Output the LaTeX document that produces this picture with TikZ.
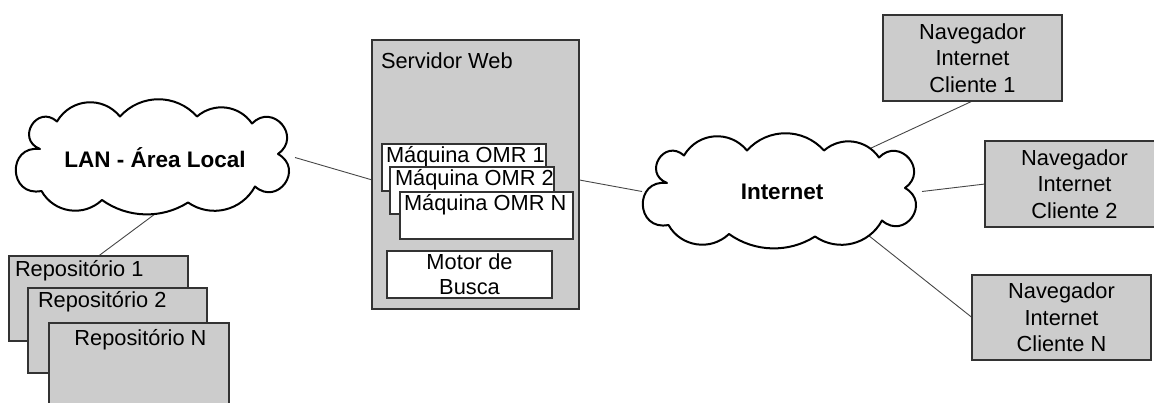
\documentclass[tikz,border=0pt]{standalone}
\usepackage{fontspec}
\setmainfont{Liberation Sans}
\usetikzlibrary{shapes.geometric,backgrounds}
\definecolor{boxgray}{RGB}{204,204,204}
\definecolor{edgegray}{RGB}{51,51,51}
\definecolor{linkgray}{RGB}{70,70,70}
\begin{document}
\begin{tikzpicture}[x=1pt,y=-1pt,
  every node/.style={font=\fontsize{21.8}{26.5}\selectfont, inner sep=0pt, outer sep=0pt},
  graybox/.style={rectangle, draw=edgegray, line width=1.2pt, fill=boxgray},
  whitebox/.style={rectangle, draw=edgegray, line width=1.2pt, fill=white},
  cloudtext/.style={ellipse, minimum width=280, minimum height=113, font=\bfseries\fontsize{22.5}{26}\selectfont},
  cloudline/.style={draw=black, line width=2pt, fill=white, line join=round},
  link/.style={draw=linkgray, line width=0.9pt},
  lbl/.style={anchor=base west},
  cloudpic/.pic={
    \path[cloudline] (-115,-8.5)
      to[bend left=100, looseness=2.1] (-98,-36)
      to[bend left=55, looseness=1.1] (-35,-41)
      to[bend left=48, looseness=1.03] (42,-41)
      to[bend left=48, looseness=1.03] (97,-34)
      to[bend left=95, looseness=1.9] (123,-3.5)
      to[bend left=96, looseness=1.95] (100,29)
      to[bend left=48, looseness=1.03] (33,45)
      to[bend left=34, looseness=0.93] (-53,42.5)
      to[bend left=52, looseness=1.06] (-113.5,33.5)
      to[bend left=99, looseness=2.05] cycle;
  }
]
\useasboundingbox (0,0) rectangle (1154,403);
\clip (0,0) rectangle (1154,403);

% repositories
\node[graybox, minimum width=179, minimum height=85] (rep1) at (98.5,298.5) {};
\node[lbl] (trep1) at (15,277) {Repositório 1};
\node[graybox, minimum width=179, minimum height=85] (rep2) at (117.5,330.5) {};
\node[lbl] (trep2) at (38,308) {Repositório 2};
\node[graybox, minimum width=180, minimum height=85] (repN) at (139,365.5) {};
\node[anchor=base] (trepN) at (140.5,345) {Repositório N};

% web server
\node[graybox, minimum width=207, minimum height=269] (srv) at (475.5,174.5) {};
\node[lbl] (tsrv) at (381,69) {Servidor Web};
\node[whitebox, minimum width=164, minimum height=47] (omr1) at (464,167.5) {};
\node[lbl] (tomr1) at (386,163) {Máquina OMR 1};
\node[whitebox, minimum width=164, minimum height=47] (omr2) at (472,190.5) {};
\node[lbl] (tomr2) at (395,186) {Máquina OMR 2};
\node[whitebox, minimum width=173, minimum height=47] (omrN) at (486.5,215.5) {};
\node[lbl] (tomrN) at (404,211) {Máquina OMR N};
\node[whitebox, minimum width=165, minimum height=47, align=center, font=\fontsize{21.8}{25}\selectfont] (motor) at (469.5,274.5) {Motor de\\Busca};

% clients
\node[graybox, minimum width=179, minimum height=86, align=center] (cli1) at (972.5,58) {Navegador\\Internet\\Cliente 1};
\node[graybox, minimum width=179, minimum height=86, align=center] (cli2) at (1074.5,184) {Navegador\\Internet\\Cliente 2};
\node[graybox, minimum width=179, minimum height=85, align=center] (cliN) at (1061.5,317.5) {Navegador\\Internet\\Cliente N};

% clouds
\pic at (155,157.5) {cloudpic};
\node[cloudtext] (lan) at (155,157.5) {LAN - Área Local};
\pic at (782,191.5) {cloudpic};
\node[cloudtext] (inet) at (782,191.5) {Internet};

% connectors
\begin{pgfonlayer}{background}
\draw[link] (lan.east) -- (srv.183);
\draw[link] (lan.south) -- (rep1.north);
\draw[link] (srv.-3) -- (inet.west);
\draw[link] (inet.26) -- (cli1.south);
\draw[link] (inet.east) -- (cli2.west);
\draw[link] (inet.-27) -- (cliN.west);
\end{pgfonlayer}
\end{tikzpicture}
\end{document}
